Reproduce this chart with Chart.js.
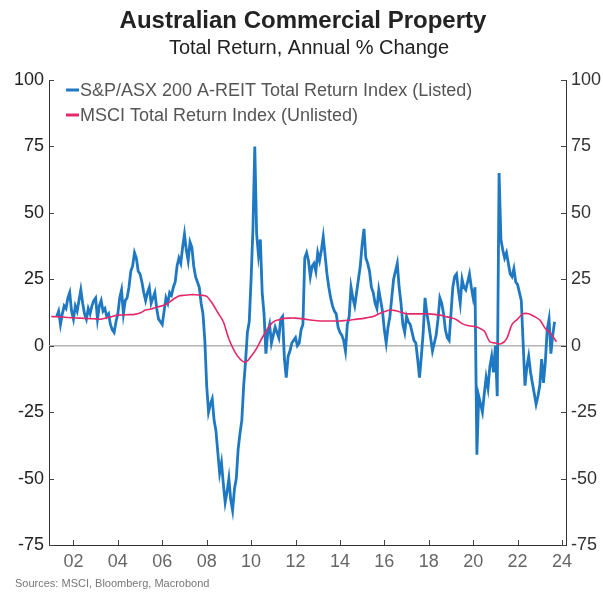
<!DOCTYPE html>
<html>
<head>
<meta charset="utf-8">
<script src="https://cdn.jsdelivr.net/npm/chart.js@4.4.1/dist/chart.umd.min.js"></script>
<style>
  html, body { margin: 0; padding: 0; background: #fff; }
  #wrap { width: 603px; height: 592px; position: relative; }
</style>
</head>
<body>
<div id="wrap"><canvas id="chart" width="603" height="592"></canvas></div>
<script>
// listed series: monthly, first value April 2001
var listedStart = 2001.25;
var listedValues = [
  11, 13, 8, 12, 15, 14, 18, 20, 13,
  10, 15, 13, 17, 21, 16, 12, 10, 14, 12, 15, 17,
  18, 10, 15, 17, 13, 14, 11, 12, 8, 6, 5, 9,
  12, 18, 21, 12, 17, 18, 22, 28, 30, 35, 33, 28,
  27, 24, 20, 17, 20, 22, 16, 18, 20, 14, 10, 9,
  8, 13, 18, 16, 20, 19, 22, 24, 30, 33, 31, 37,
  42, 36, 32, 39, 37, 30, 26, 24, 22, 16, 12, 2,
  -15, -25, -22, -20, -28, -32, -40, -48, -44, -52, -59, -55,
  -50, -58, -62, -54, -50, -39, -33, -28, -15, -6, 5, 9,
  25, 44, 75, 42, 34, 40, 20, 12, -3, 5, 8, 1,
  4, 7, 5, 3, 10, 11, -5, -12, -4, -2, 1, 2,
  3, 0, 1, 6, 8, 33, 35, 32, 26, 30, 31, 28,
  35, 32, 36, 41, 34, 27, 22, 18, 15, 13, 12, 7,
  5, 4, 2, -2, 8, 11, 22, 18, 15, 20, 25, 30,
  38, 44, 33, 31, 28, 22, 20, 16, 14, 21, 17, 13,
  6, 1, 7, 11, 18, 25, 28, 31, 22, 16, 8, 5,
  11, 9, 8, 5, 2, 1, -5, -12, -4, 5, 18, 12,
  8, 3, -2, 1, 4, 10, 18, 16, 12, 6, 3, 2,
  12, 22, 26, 27, 21, 16, 25, 22, 21, 24, 27, 22,
  18, 22, -41, -19, -22, -25, -18, -12, -16, -8, -4, -10,
  0, -19, 65, 40, 36, 33, 35, 31, 27, 26, 29, 24,
  23, 20, 17, 1, -15, -8, -4, -10, -14, -18, -22, -19,
  -15, -5, -14, -6, 6, 10, -3, 4, 9
];

// unlisted series: quarterly, first value Q1 2001
var unlistedStart = 2001.0;
var unlistedValues = [
  11, 10.9, 10.8, 10.6,
  10.5, 10.4, 10.3, 10.2,
  10.1, 10, 10.5, 11,
  11.5, 11.6, 11.7, 11.8,
  12.3, 13.4, 13.8, 14.5,
  15, 16, 17.5, 18.7,
  19, 19.2, 19.2, 19,
  18.6, 16, 12.5, 9,
  2.5, -2, -5, -6.2,
  -4, -1, 3, 6.5,
  9, 9.8, 10.3, 10.4,
  10.4, 10.2, 9.9, 9.6,
  9.4, 9.3, 9.3, 9.3,
  9.3, 9.5, 9.7, 10,
  10.2, 10.6, 11, 12,
  12.8, 13.4, 13.2, 12.6,
  12, 12, 12, 12,
  12, 11.8, 11.5, 11,
  10.5, 9.8, 8.3, 7.6,
  7.3, 6.8, 5.5, 1.5,
  1, 0.7, 2.5, 8,
  10, 12, 12, 11,
  9.7, 6.5, 4.5, 1.5
];

var tickYears = [2002, 2004, 2006, 2008, 2010, 2012, 2014, 2016, 2018, 2020, 2022, 2024];
var yTicks = [-75, -50, -25, 0, 25, 50, 75, 100];
var seriesNames = ["S&P/ASX 200 A-REIT Total Return Index (Listed)", "MSCI Total Return Index (Unlisted)"];

var blue = "#1f78c2";
var pink = "#e5286a";
var font = "'Liberation Sans', Arial, sans-serif";

var listedData = listedValues.map(function(v, i) { return { x: listedStart + i / 12, y: v }; });
var unlistedData = unlistedValues.map(function(v, i) { return { x: unlistedStart + i / 4, y: v }; });

// title, legend, source, zero line and inward ticks
var decor = {
  id: "decor",
  beforeDatasetsDraw: function(chart) {
    var ctx = chart.ctx, a = chart.chartArea;
    var y0 = chart.scales.y.getPixelForValue(0);
    ctx.save();
    ctx.strokeStyle = "#b4b4b4";
    ctx.lineWidth = 1.5;
    ctx.beginPath();
    ctx.moveTo(a.left, y0);
    ctx.lineTo(a.right, y0);
    ctx.stroke();
    ctx.restore();
  },
  afterDraw: function(chart) {
    var ctx = chart.ctx, a = chart.chartArea;
    var xs = chart.scales.x, yl = chart.scales.y;
    ctx.save();
    // inward ticks
    ctx.strokeStyle = "#444";
    ctx.lineWidth = 1;
    ctx.beginPath();
    tickYears.forEach(function(t) {
      var px = Math.round(xs.getPixelForValue(t)) + 0.5;
      ctx.moveTo(px, a.bottom);
      ctx.lineTo(px, a.bottom - 5);
    });
    yTicks.forEach(function(t) {
      var py = Math.round(yl.getPixelForValue(t)) + 0.5;
      ctx.moveTo(a.left, py);
      ctx.lineTo(a.left + 5, py);
      ctx.moveTo(a.right, py);
      ctx.lineTo(a.right - 5, py);
    });
    ctx.stroke();

    // titles
    ctx.textAlign = "center";
    ctx.textBaseline = "middle";
    ctx.fillStyle = "#222";
    ctx.font = "bold 24px " + font;
    ctx.fillText("Australian Commercial Property", 303, 21);
    ctx.font = "20px " + font;
    ctx.fillText("Total Return, Annual % Change", 309, 48);

    // legend
    ctx.textAlign = "left";
    ctx.font = "18px " + font;
    [blue, pink].forEach(function(c, i) {
      var ly = 90 + i * 25;
      ctx.strokeStyle = c;
      ctx.lineWidth = 3;
      ctx.beginPath();
      ctx.moveTo(66, ly);
      ctx.lineTo(79, ly);
      ctx.stroke();
      ctx.fillStyle = "#555";
      ctx.fillText(seriesNames[i], 80, ly + 1);
    });

    // source
    ctx.font = "11px " + font;
    ctx.fillStyle = "#777";
    ctx.fillText("Sources: MSCI, Bloomberg, Macrobond", 15, 584);
    ctx.restore();
  }
};

var yAxis = function(pos, w, color) {
  return {
    type: "linear",
    position: pos,
    min: -75,
    max: 100,
    afterBuildTicks: function(s) { s.ticks = yTicks.map(function(v) { return { value: v }; }); },
    afterFit: function(s) { s.width = w; },
    grid: { display: false, drawTicks: false },
    border: { display: true, color: "#333", width: 1 },
    ticks: { color: color, padding: 5, font: { size: 18, family: font } }
  };
};

var chart = new Chart(document.getElementById("chart"), {
  type: "line",
  data: {
    datasets: [
      {
        label: seriesNames[1],
        data: unlistedData,
        borderColor: pink,
        borderWidth: 1.6,
        pointRadius: 0,
        tension: 0.3,
        order: 0
      },
      {
        label: seriesNames[0],
        data: listedData,
        borderColor: blue,
        borderWidth: 2.8,
        pointRadius: 0,
        tension: 0,
        order: 1
      }
    ]
  },
  options: {
    responsive: false,
    animation: false,
    layout: { padding: { top: 80, left: 0, right: 0, bottom: 0 } },
    plugins: { legend: { display: false }, title: { display: false }, tooltip: { enabled: false } },
    scales: {
      x: {
        type: "linear",
        min: 2000.9,
        max: 2024.18,
        afterBuildTicks: function(s) { s.ticks = tickYears.map(function(v) { return { value: v }; }); },
        afterFit: function(s) { s.height = 47; },
        grid: { display: false, drawTicks: false },
        border: { display: true, color: "#333", width: 1 },
        ticks: {
          color: "#666",
          padding: 6,
          maxRotation: 0,
          autoSkip: false,
          font: { size: 18, family: font },
          callback: function(v) { return String(v).slice(2); }
        }
      },
      y: yAxis("left", 49, "#222"),
      y2: yAxis("right", 37, "#333")
    }
  },
  plugins: [decor]
});
</script>
</body>
</html>
